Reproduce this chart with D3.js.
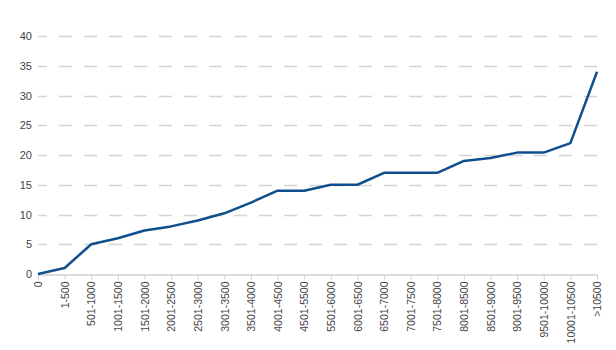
<!DOCTYPE html>
<html>
<head>
<meta charset="utf-8">
<script src="https://cdn.jsdelivr.net/npm/d3@7"></script>
<style>
  html, body { margin: 0; padding: 0; background: #fff; }
  svg { display: block; font-family: "Liberation Sans", Arial, sans-serif; }
</style>
</head>
<body>
<svg id="chart" width="616" height="350"></svg>
<script>
const categories = ["0","1-500","501-1000","1001-1500","1501-2000","2001-2500","2501-3000","3001-3500","3501-4000","4001-4500","4501-5500","5501-6000","6001-6500","6501-7000","7001-7500","7501-8000","8001-8500","8501-9000","9001-9500","9501-10000","10001-10500",">10500"];
const values = [0, 1, 5, 6, 7.3, 8, 9, 10.2, 12, 14, 14, 15, 15, 17, 17, 17, 19, 19.5, 20.4, 20.4, 22, 34];
const yTicks = [0, 5, 10, 15, 20, 25, 30, 35, 40];

(function () {
const svg = d3.select("#chart");
const mLeft = 38, mRight = 597, mTop = 36, mBottom = 274;

const x = d3.scalePoint().domain(categories).range([mLeft, mRight]);
const y = d3.scaleLinear().domain([0, 40]).range([mBottom, mTop]);

// gridlines
svg.append("g").selectAll("line")
  .data(yTicks.filter(d => d > 0))
  .join("line")
  .attr("x1", mLeft).attr("x2", mRight)
  .attr("y1", d => Math.round(y(d)) + 0.5).attr("y2", d => Math.round(y(d)) + 0.5)
  .attr("stroke", "#d4d4d4").attr("stroke-width", 1.5)
  .attr("stroke-dasharray", "13,12").attr("stroke-dashoffset", 4);

// y axis labels
const yAxis = d3.axisLeft(y).tickValues(yTicks).tickSize(0).tickPadding(6);
const gy = svg.append("g").attr("transform", `translate(${mLeft},0)`).call(yAxis);
gy.select(".domain").remove();
gy.selectAll("text").attr("font-size", 11).attr("fill", "#444")
  .attr("font-family", "Liberation Sans, Arial, sans-serif");

// x axis
const xAxis = d3.axisBottom(x).tickSize(5).tickSizeOuter(0).tickPadding(2);
const gx = svg.append("g").attr("transform", `translate(0,${mBottom + 0.5})`).call(xAxis);
gx.select(".domain").attr("stroke", "#cfcfcf").attr("stroke-width", 1.5);
gx.selectAll(".tick line").attr("stroke", "#cfcfcf");
gx.selectAll("text")
  .attr("font-size", 10.5).attr("fill", "#444")
  .attr("font-family", "Liberation Sans, Arial, sans-serif")
  .attr("text-anchor", "end")
  .attr("transform", "rotate(-90)")
  .attr("x", -7).attr("y", 0).attr("dy", "0.35em");

// line
const line = d3.line()
  .x((d, i) => x(categories[i]))
  .y(d => y(d));
svg.append("path")
  .datum(values)
  .attr("d", line)
  .attr("fill", "none")
  .attr("stroke", "#0f4f8d")
  .attr("stroke-width", 2.5)
  .attr("stroke-linejoin", "round");
})();
</script>
</body>
</html>
